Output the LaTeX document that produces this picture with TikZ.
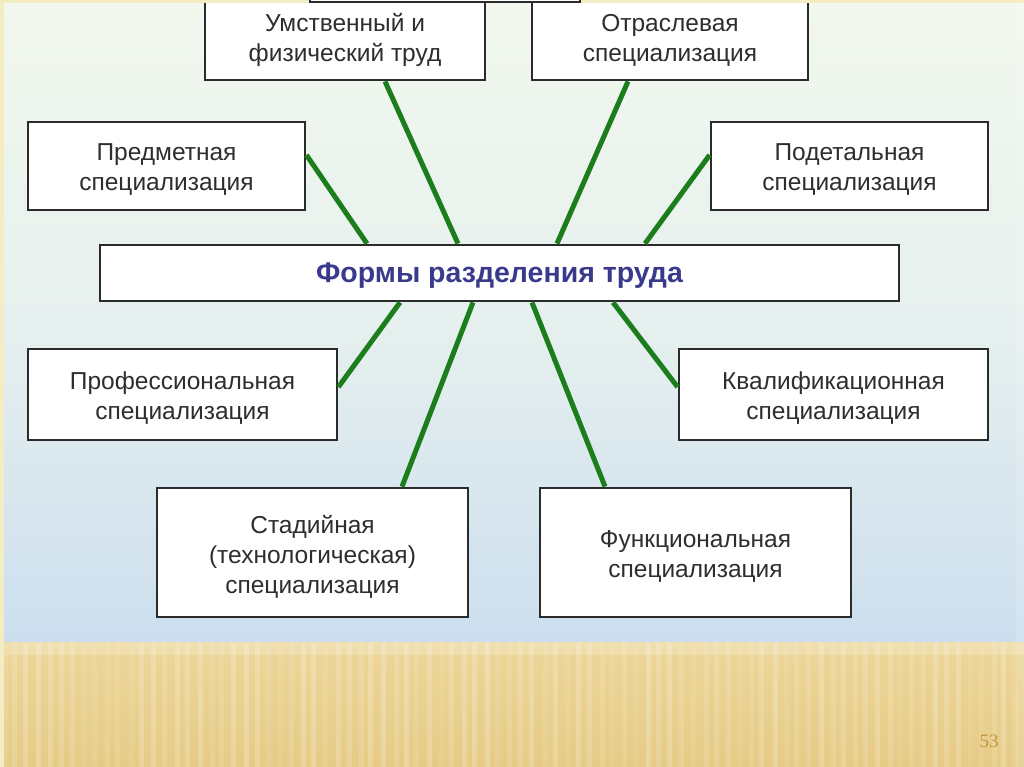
\documentclass[tikz,border=0pt]{standalone}
\usepackage{fontspec}
\setmainfont{Liberation Sans}
\newfontfamily\numfont{Liberation Serif}
\usetikzlibrary{calc}
\definecolor{boxline}{HTML}{2B2B2B}
\definecolor{boxtext}{HTML}{2E2E2E}
\definecolor{linkgreen}{HTML}{1B7D1B}
\definecolor{titleblue}{HTML}{3A3A8C}
\definecolor{bgtop}{HTML}{F2F8EE}
\definecolor{bgmid}{HTML}{E6F0EE}
\definecolor{bgbot}{HTML}{CCDEEE}
\definecolor{bandtop}{HTML}{EDD699}
\definecolor{bandbot}{HTML}{E6CB86}
\definecolor{frameyel}{HTML}{F4EDC4}
\definecolor{pagenum}{HTML}{C09A3C}
\tikzset{
  formbox/.style={draw=boxline, line width=1.4pt, fill=white, rectangle, inner sep=0pt},
  boxlabel/.style={inner sep=0pt, align=center, text=boxtext, font=\fontsize{24.5}{30}\selectfont},
  link/.style={draw=linkgreen, line width=5pt}
}
\begin{document}
\begin{tikzpicture}[x=1pt,y=-1pt]
\useasboundingbox (0,0) rectangle (1024,767);
% background
\shade[top color=bgtop, bottom color=bgbot, middle color=bgmid] (0,0) rectangle (1024,642);
\shade[top color=bandtop, bottom color=bandbot] (0,642) rectangle (1024,767);
\pgfmathsetseed{7}
\foreach \i in {0,...,90}{
  \pgfmathsetmacro{\xx}{\i*11.5+rnd*3}
  \pgfmathsetmacro{\op}{0.07+0.15*rnd}
  \fill[white, opacity=\op] (\xx,642) rectangle ++(5,125);
}
\fill[white, opacity=0.2] (0,642) rectangle (1024,655);
\fill[frameyel] (0,0) rectangle (4,767);
\fill[white, opacity=0.15] (1016,0) rectangle (1024,767);
% boxes
\node[formbox, minimum width=280pt, minimum height=88pt] (um) at (345,36) {};
\node[formbox, minimum width=276pt, minimum height=88pt] (ot) at (670,36) {};
\node[formbox, minimum width=277pt, minimum height=88pt] (pr) at (166.5,166) {};
\node[formbox, minimum width=277pt, minimum height=88pt] (po) at (849.5,166) {};
\node[formbox, minimum width=799pt, minimum height=56pt] (main) at (499.5,273) {};
\node[formbox, minimum width=309pt, minimum height=91pt] (prof) at (182.5,394.5) {};
\node[formbox, minimum width=309pt, minimum height=91pt] (kv) at (833.5,394.5) {};
\node[formbox, minimum width=311pt, minimum height=129pt] (st) at (312.5,552.5) {};
\node[formbox, minimum width=311pt, minimum height=129pt] (fu) at (695.5,552.5) {};
% partially visible box at top
\fill[frameyel] (0,0) rectangle (1024,3);
\node[formbox, minimum width=270pt, minimum height=40pt] (topbox) at (445,-18) {};
% texts
\node[boxlabel] (umT) at ([yshift=-4pt]um.center) {Умственный и\\физический труд};
\node[boxlabel] (otT) at ([yshift=-4pt]ot.center) {Отраслевая\\специализация};
\node[boxlabel] (prT) at ([yshift=-4pt]pr.center) {Предметная\\специализация};
\node[boxlabel] (poT) at ([yshift=-4pt]po.center) {Подетальная\\специализация};
\node[boxlabel, text=titleblue, font=\bfseries\fontsize{28.5}{30}\selectfont] (mainT) at ([yshift=-3pt]main.center) {Формы разделения труда};
\node[boxlabel] (profT) at ([yshift=-4pt]prof.center) {Профессиональная\\специализация};
\node[boxlabel] (kvT) at ([yshift=-4pt]kv.center) {Квалификационная\\специализация};
\node[boxlabel] (stT) at ([yshift=-4pt]st.center) {Стадийная\\(технологическая)\\специализация};
\node[boxlabel] (fuT) at ([yshift=-4pt]fu.center) {Функциональная\\специализация};
% connectors
\draw[link] ([xshift=40pt,yshift=-0.7pt]um.south) -- ([xshift=-41.5pt,yshift=0.7pt]main.north);
\draw[link] ([xshift=-42pt,yshift=-0.7pt]ot.south) -- ([xshift=57.5pt,yshift=0.7pt]main.north);
\draw[link] ([xshift=0.7pt,yshift=11pt]pr.east) -- ([xshift=-132.5pt,yshift=0.7pt]main.north);
\draw[link] ([xshift=-0.7pt,yshift=11pt]po.west) -- ([xshift=145.5pt,yshift=0.7pt]main.north);
\draw[link] ([xshift=-99.5pt,yshift=-0.7pt]main.south) -- ([xshift=0.7pt,yshift=7.5pt]prof.east);
\draw[link] ([xshift=-26.5pt,yshift=-0.7pt]main.south) -- ([xshift=89.5pt,yshift=0.7pt]st.north);
\draw[link] ([xshift=32.5pt,yshift=-0.7pt]main.south) -- ([xshift=-90.5pt,yshift=0.7pt]fu.north);
\draw[link] ([xshift=113.5pt,yshift=-0.7pt]main.south) -- ([xshift=-0.7pt,yshift=7.5pt]kv.west);
% page number
\node[text=pagenum, font=\numfont\fontsize{19}{20}\selectfont, inner sep=0pt] (pg) at (989,741) {53};
\end{tikzpicture}
\end{document}
